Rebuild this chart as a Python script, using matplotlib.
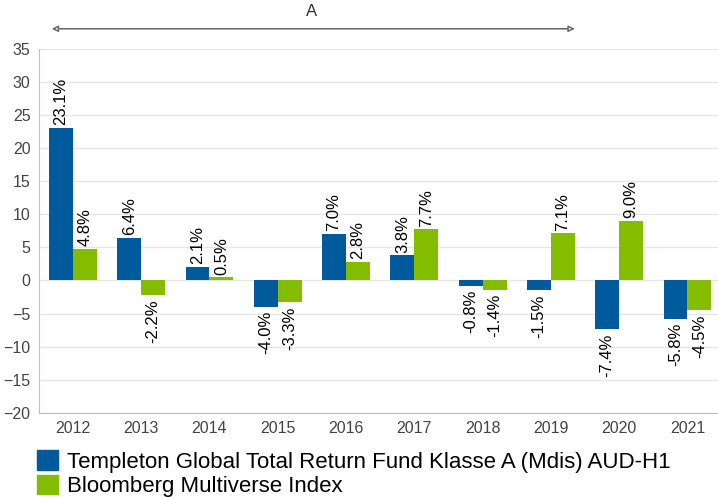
import numpy as np
import matplotlib.pyplot as plt
from matplotlib.patches import Patch

plt.rcParams['font.family'] = ['Liberation Sans', 'DejaVu Sans']

years = ['2012', '2013', '2014', '2015', '2016', '2017', '2018', '2019', '2020', '2021']
fund = [23.1, 6.4, 2.1, -4.0, 7.0, 3.8, -0.8, -1.5, -7.4, -5.8]
index = [4.8, -2.2, 0.5, -3.3, 2.8, 7.7, -1.4, 7.1, 9.0, -4.5]
names = ['Templeton Global Total Return Fund Klasse A (Mdis) AUD-H1',
         'Bloomberg Multiverse Index']
colors = ['#005A9C', '#84BD00']

fig = plt.figure(figsize=(7.18, 4.98), dpi=100)
ax = fig.add_axes([0.054, 0.171, 0.951, 0.731])

x = np.arange(len(years))
w = 0.35
for vals, off, c in [(fund, -w / 2, colors[0]), (index, w / 2, colors[1])]:
    ax.bar(x + off, vals, w, color=c, zorder=3)
    for xi, v in zip(x + off, vals):
        if v >= 0:
            ax.text(xi, v + 0.4, f'{v:.1f}%', rotation=90, ha='center', va='bottom', fontsize=12)
        else:
            ax.text(xi, v - 0.6, f'{v:.1f}%', rotation=90, ha='center', va='top', fontsize=12)

ax.set_xlim(-0.5, 9.5)
ax.set_ylim(-20, 35)
ax.set_yticks(range(-20, 36, 5))
ax.set_xticks(x)
ax.set_xticklabels(years)
ax.tick_params(axis='both', length=0, labelsize=11.5, labelcolor='#444444', pad=6)
ax.grid(axis='y', color='#e6e6e6', linewidth=1, zorder=0)
for s in ['top', 'right']:
    ax.spines[s].set_visible(False)
for s in ['left', 'bottom']:
    ax.spines[s].set_color('#c0c0c0')

# period arrow
ax.annotate('', xy=(-0.31, 1.055), xytext=(7.35, 1.055),
            xycoords=('data', 'axes fraction'), textcoords=('data', 'axes fraction'),
            arrowprops=dict(arrowstyle='<|-|>', edgecolor='#666666', facecolor='white',
                            lw=1.1, mutation_scale=9, shrinkA=0, shrinkB=0),
            annotation_clip=False)
ax.text(3.5, 1.083, 'A', transform=ax.get_xaxis_transform(), ha='center', va='bottom',
        fontsize=12, color='#333333')

handles = [Patch(color=c) for c in colors]
fig.legend(handles, names, loc='lower left', bbox_to_anchor=(0.039, -0.016), frameon=False,
           fontsize=16, handlelength=0.95, handleheight=0.95, handletextpad=0.4,
           labelspacing=0.1, borderaxespad=0)

fig.savefig('out.png', dpi=100)
